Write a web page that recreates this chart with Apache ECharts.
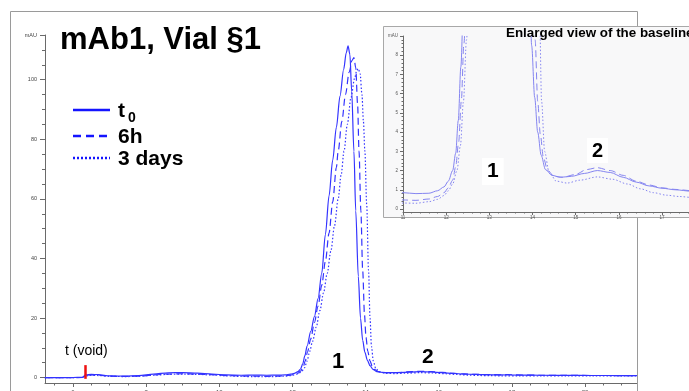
<!DOCTYPE html>
<html>
<head>
<meta charset="utf-8">
<script src="https://cdn.jsdelivr.net/npm/echarts@6/dist/echarts.min.js"></script>
<style>
  html, body { margin: 0; padding: 0; background: #ffffff; }
  #chart { width: 689px; height: 391px; }
</style>
</head>
<body>
<div id="chart"></div>
<script>
// Retention time (min) / absorbance (mAU) pairs for each sample of mAb1, Vial §1
const t0Trace = [
  [5.23,0.0],[5.6,0.0],[6.0,0.05],[6.25,0.1],[6.35,0.9],[6.5,1.1],[6.7,1.0],[7.0,0.6],[7.4,0.5],
  [7.8,0.7],[8.2,1.2],[8.6,1.6],[9.0,1.7],[9.4,1.5],[9.8,1.2],[10.2,0.9],[10.6,0.8],[11.0,0.85],
  [11.3,0.8],[11.6,0.82],[11.8,0.95],[11.95,1.15],[12.05,1.45],[12.15,2.0],[12.22,2.9],[12.28,4.6],
  [12.34,7.4],[12.4,10.6],[12.5,15.5],[12.6,20.5],[12.7,26.5],[12.8,35],[12.9,48],[13.0,61],
  [13.1,73],[13.2,84],[13.3,94.5],[13.4,103.5],[13.47,109],[13.52,111.4],[13.57,108.5],
  [13.62,96],[13.68,76],[13.73,56],[13.8,34],[13.86,20],[13.92,12.5],[13.98,8.5],[14.05,5.8],
  [14.12,4],[14.2,2.8],[14.3,2.05],[14.45,1.75],[14.65,1.65],[14.9,1.7],[15.2,1.85],[15.5,2.0],
  [15.8,1.9],[16.1,1.65],[16.4,1.4],[16.7,1.2],[17.0,1.08],[17.3,1.0],[17.7,0.92],[18.2,0.85],
  [18.8,0.8],[19.5,0.75],[20.2,0.72],[21.0,0.7],[21.42,0.7]
];
const h6Trace = [
  [5.23,0.0],[5.6,0.0],[6.0,0.0],[6.25,0.05],[6.35,0.7],[6.5,0.9],[6.7,0.8],[7.0,0.5],[7.4,0.4],
  [7.8,0.5],[8.2,0.9],[8.6,1.2],[9.0,1.3],[9.4,1.2],[9.8,1.0],[10.2,0.7],[10.6,0.55],[11.0,0.47],
  [11.3,0.45],[11.6,0.52],[11.8,0.65],[11.95,0.85],[12.05,1.1],[12.15,1.5],[12.22,2.2],[12.29,3.5],
  [12.35,5.6],[12.41,8.6],[12.5,13],[12.6,18.5],[12.7,24],[12.8,31],[12.9,39],[13.0,48.5],[13.1,59],
  [13.2,70.5],[13.25,76],[13.35,86],[13.45,95],[13.55,102.5],[13.63,106.5],[13.68,107.4],
  [13.73,104],[13.78,92],[13.82,76],[13.87,56],[13.92,36],[13.97,21],[14.01,13.5],[14.06,8.8],
  [14.12,5.6],[14.18,3.9],[14.25,2.7],[14.35,2.0],[14.5,1.7],[14.7,1.65],[15.0,1.8],[15.25,2.05],
  [15.5,2.15],[15.8,2.0],[16.1,1.75],[16.4,1.45],[16.7,1.25],[17.0,1.1],[17.3,1.02],[17.7,0.95],
  [17.9,1.05],[18.1,0.9],[18.8,0.8],[19.5,0.75],[20.2,0.72],[21.0,0.7],[21.42,0.7]
];
const d3Trace = [
  [5.23,0.0],[6.0,0.0],[6.25,0.05],[6.35,0.6],[6.5,0.8],[6.7,0.7],[7.0,0.45],[7.4,0.35],[7.8,0.45],
  [8.2,0.8],[8.6,1.1],[9.0,1.2],[9.4,1.1],[9.8,0.9],[10.2,0.6],[10.6,0.4],[11.0,0.31],[11.3,0.3],
  [11.6,0.38],[11.8,0.5],[11.95,0.7],[12.05,0.95],[12.15,1.3],[12.25,2.0],[12.33,3.3],[12.4,5.6],
  [12.47,8.8],[12.55,12.2],[12.65,17],[12.75,22.5],[12.85,28.5],[12.95,35],[13.05,42.5],[13.15,51],
  [13.25,60],[13.33,68],[13.41,76],[13.5,85],[13.6,94],[13.7,100.5],[13.76,103.2],[13.8,103.7],
  [13.85,102],[13.9,95],[13.94,86],[13.98,76],[14.03,58],[14.08,36],[14.12,20],[14.16,10.5],
  [14.21,5.6],[14.28,3.0],[14.38,1.95],[14.55,1.45],[14.8,1.35],[15.1,1.5],[15.5,1.67],[15.85,1.55],
  [16.2,1.3],[16.5,1.05],[16.8,0.85],[17.1,0.72],[17.4,0.65],[17.7,0.6],[18.2,0.58],[18.8,0.55],
  [19.5,0.55],[20.2,0.55],[21.0,0.55],[21.42,0.55]
];

// Sample names
const sampleNames = ['t0', '6h', '3 days'];

// Axis ticks of the full chromatogram
const mainTimeLabels = [6, 8, 10, 12, 14, 16, 18, 20];
const mainTimeMinor = [5.5, 6.5, 7, 7.5, 8.5, 9, 9.5, 10.5, 11, 11.5, 12.5, 13, 13.5, 14.5, 15, 15.5,
  16.5, 17, 17.5, 18.5, 19, 19.5, 20.5, 21];
const mainAbsLabels = [0, 20, 40, 60, 80, 100, 115];
const mainAbsMinor = [5, 10, 15, 25, 30, 35, 45, 50, 55, 65, 70, 75, 85, 90, 95, 105, 110];

// Axis ticks of the baseline close-up
const insetTimeLabels = [11, 12, 13, 14, 15, 16, 17];
const insetTimeMinor = [11.2, 11.4, 11.6, 11.8, 12.2, 12.4, 12.6, 12.8, 13.2, 13.4, 13.6, 13.8,
  14.2, 14.4, 14.6, 14.8, 15.2, 15.4, 15.6, 15.8, 16.2, 16.4, 16.6, 16.8, 17.2, 17.4, 17.6];
const insetAbsLabels = [0, 1, 2, 3, 4, 5, 6, 7, 8, 9];
const insetAbsMinor = [0.2, 0.4, 0.6, 0.8, 1.2, 1.4, 1.6, 1.8, 2.2, 2.4, 2.6, 2.8, 3.2, 3.4, 3.6, 3.8,
  4.2, 4.4, 4.6, 4.8, 5.2, 5.4, 5.6, 5.8, 6.2, 6.4, 6.6, 6.8, 7.2, 7.4, 7.6, 7.8, 8.2, 8.4, 8.6, 8.8];

// Void volume marker position (min)
const voidTime = 6.33;

const MAIN_BLUE = '#3333ff';
const INSET_BLUE = '#8585f0';
const AXIS_GREY = '#6a6a6a';
const SANS = 'Liberation Sans, Arial, sans-serif';

const chart = echarts.init(document.getElementById('chart'), null, { renderer: 'canvas' });

function valueAxis(extra) {
  return Object.assign({
    type: 'value',
    splitLine: { show: false },
    axisLine: { show: true, onZero: false, lineStyle: { color: AXIS_GREY, width: 1 } },
    axisTick: { show: true, lineStyle: { color: AXIS_GREY } },
    axisLabel: { color: '#444', fontFamily: SANS }
  }, extra);
}

function minorAxis(extra) {
  return Object.assign({
    type: 'value',
    splitLine: { show: false },
    axisLine: { show: false, onZero: false },
    axisLabel: { show: false }
  }, extra);
}

const lineStyles = [
  { type: 'solid' },
  { type: [7, 4] },
  { type: [1.5, 2] }
];
const traces = [t0Trace, h6Trace, d3Trace];

const series = [];
traces.forEach((trace, i) => {
  const s = {
    name: sampleNames[i],
    type: 'line',
    xAxisIndex: 0,
    yAxisIndex: 0,
    data: trace,
    showSymbol: false,
    smooth: 0.3,
    smoothMonotone: 'x',
    z: 2,
    lineStyle: Object.assign({ color: MAIN_BLUE, width: 1.2 }, lineStyles[i])
  };
  if (i === 0) {
    s.markLine = {
      silent: true,
      symbol: 'none',
      label: { show: false },
      lineStyle: { color: '#ee1111', width: 2.5, type: 'solid' },
      data: [[{ coord: [voidTime, -0.4] }, { coord: [voidTime, 4.2] }]]
    };
  }
  series.push(s);
});
traces.forEach((trace, i) => {
  series.push({
    name: sampleNames[i] + ' (baseline)',
    type: 'line',
    xAxisIndex: 2,
    yAxisIndex: 2,
    data: trace,
    showSymbol: false,
    smooth: 0.3,
    smoothMonotone: 'x',
    clip: true,
    z: 8,
    lineStyle: Object.assign({ color: INSET_BLUE, width: 1 }, lineStyles[i])
  });
});

const legendRows = [
  { y: 110, dash: null, label: 't', sub: '0' },
  { y: 136, dash: [8, 5], label: '6h' },
  { y: 158, dash: [2, 2], label: '3 days' }
];
const graphics = [];

// outer frame of the chromatogram
graphics.push({ type: 'line', z: 1, shape: { x1: 10.5, y1: 11.5, x2: 10.5, y2: 391 }, style: { stroke: '#9a9a9a', lineWidth: 1 } });
graphics.push({ type: 'line', z: 1, shape: { x1: 10.5, y1: 11.5, x2: 637.5, y2: 11.5 }, style: { stroke: '#9a9a9a', lineWidth: 1 } });
graphics.push({ type: 'line', z: 1, shape: { x1: 637.5, y1: 11.5, x2: 637.5, y2: 391 }, style: { stroke: '#9a9a9a', lineWidth: 1 } });

// baseline close-up panel
graphics.push({ type: 'rect', z: 5, shape: { x: 383.5, y: 26.5, width: 320, height: 191 },
  style: { fill: '#f8f8f9', stroke: '#a8a8a8', lineWidth: 1 } });
graphics.push({ type: 'text', z: 12, x: 506, y: 27,
  style: { text: 'Enlarged view of the baseline', fill: '#000', font: 'bold 13.4px ' + SANS } });

// title
graphics.push({ type: 'text', z: 12, x: 60, y: 25,
  style: { text: 'mAb1, Vial §1', fill: '#000', font: 'bold 31px ' + SANS } });

// legend
legendRows.forEach(r => {
  graphics.push({ type: 'line', z: 12, shape: { x1: 73, y1: r.y, x2: 110, y2: r.y },
    style: { stroke: '#1414ff', lineWidth: 2.5, lineDash: r.dash } });
  graphics.push({ type: 'text', z: 12, x: 118, y: r.y + 1,
    style: { text: r.label, fill: '#000', font: 'bold 21px ' + SANS, verticalAlign: 'middle' } });
  if (r.sub) {
    graphics.push({ type: 'text', z: 12, x: 128, y: r.y + 1,
      style: { text: r.sub, fill: '#000', font: 'bold 14px ' + SANS } });
  }
});

// peak annotations
graphics.push({ type: 'text', z: 12, x: 65, y: 344,
  style: { text: 't (void)', fill: '#000', font: '14px ' + SANS } });
graphics.push({ type: 'text', z: 12, x: 328, y: 349,
  style: { text: '1', fill: '#000', font: 'bold 22px ' + SANS, backgroundColor: '#fff', padding: [2, 4, 3, 4] } });
graphics.push({ type: 'text', z: 12, x: 420, y: 346,
  style: { text: '2', fill: '#000', font: 'bold 21px ' + SANS, backgroundColor: '#fff', padding: [1, 2, 0, 2] } });
graphics.push({ type: 'text', z: 12, x: 482, y: 158,
  style: { text: '1', fill: '#000', font: 'bold 21px ' + SANS, backgroundColor: '#fff', padding: [3, 5, 3, 5] } });
graphics.push({ type: 'text', z: 12, x: 587, y: 138,
  style: { text: '2', fill: '#000', font: 'bold 20px ' + SANS, backgroundColor: '#fff', padding: [3, 5, 2, 5] } });

chart.setOption({
  animation: false,
  backgroundColor: '#ffffff',
  grid: [
    { left: 45, right: 52, top: 35, bottom: 8, outerBoundsMode: 'none', containLabel: false },
    { left: 403, width: 293.6, top: 36, bottom: 179, z: 6, outerBoundsMode: 'none', containLabel: false }
  ],
  xAxis: [
    valueAxis({
      gridIndex: 0, min: 5.234, max: 21.42,
      axisTick: { show: true, length: 4, customValues: mainTimeLabels, lineStyle: { color: AXIS_GREY } },
      axisLabel: { customValues: mainTimeLabels, fontSize: 6, margin: 6, color: '#444', fontFamily: SANS }
    }),
    minorAxis({
      gridIndex: 0, position: 'bottom', min: 5.234, max: 21.42,
      axisTick: { show: true, length: 2.5, customValues: mainTimeMinor, lineStyle: { color: AXIS_GREY } }
    }),
    valueAxis({
      gridIndex: 1, min: 11, max: 17.8, z: 7,
      axisTick: { show: true, length: 3, customValues: insetTimeLabels, lineStyle: { color: AXIS_GREY } },
      axisLabel: { customValues: insetTimeLabels, fontSize: 4.5, margin: 3, color: '#555', fontFamily: SANS }
    }),
    minorAxis({
      gridIndex: 1, position: 'bottom', min: 11, max: 17.8, z: 7,
      axisTick: { show: true, length: 1.5, customValues: insetTimeMinor, lineStyle: { color: AXIS_GREY } }
    })
  ],
  yAxis: [
    valueAxis({
      gridIndex: 0, min: -1.8, max: 115,
      axisTick: { show: true, length: 5, customValues: mainAbsLabels, lineStyle: { color: AXIS_GREY } },
      axisLabel: {
        customValues: mainAbsLabels, fontSize: 5.5, margin: 8, color: '#444', fontFamily: SANS,
        formatter: v => (v === 115 ? 'mAU' : String(v))
      }
    }),
    minorAxis({
      gridIndex: 0, position: 'left', min: -1.8, max: 115,
      axisTick: { show: true, length: 3, customValues: mainAbsMinor, lineStyle: { color: AXIS_GREY } }
    }),
    valueAxis({
      gridIndex: 1, min: -0.156, max: 9, z: 7,
      axisTick: { show: true, length: 3, customValues: insetAbsLabels, lineStyle: { color: AXIS_GREY } },
      axisLabel: {
        customValues: insetAbsLabels, fontSize: 4.5, margin: 5, color: '#555', fontFamily: SANS,
        formatter: v => (v === 9 ? 'mAU' : String(v))
      }
    }),
    minorAxis({
      gridIndex: 1, position: 'left', min: -0.156, max: 9, z: 7,
      axisTick: { show: true, length: 1.5, customValues: insetAbsMinor, lineStyle: { color: AXIS_GREY } }
    })
  ],
  graphic: graphics,
  series: series
});
</script>
</body>
</html>
